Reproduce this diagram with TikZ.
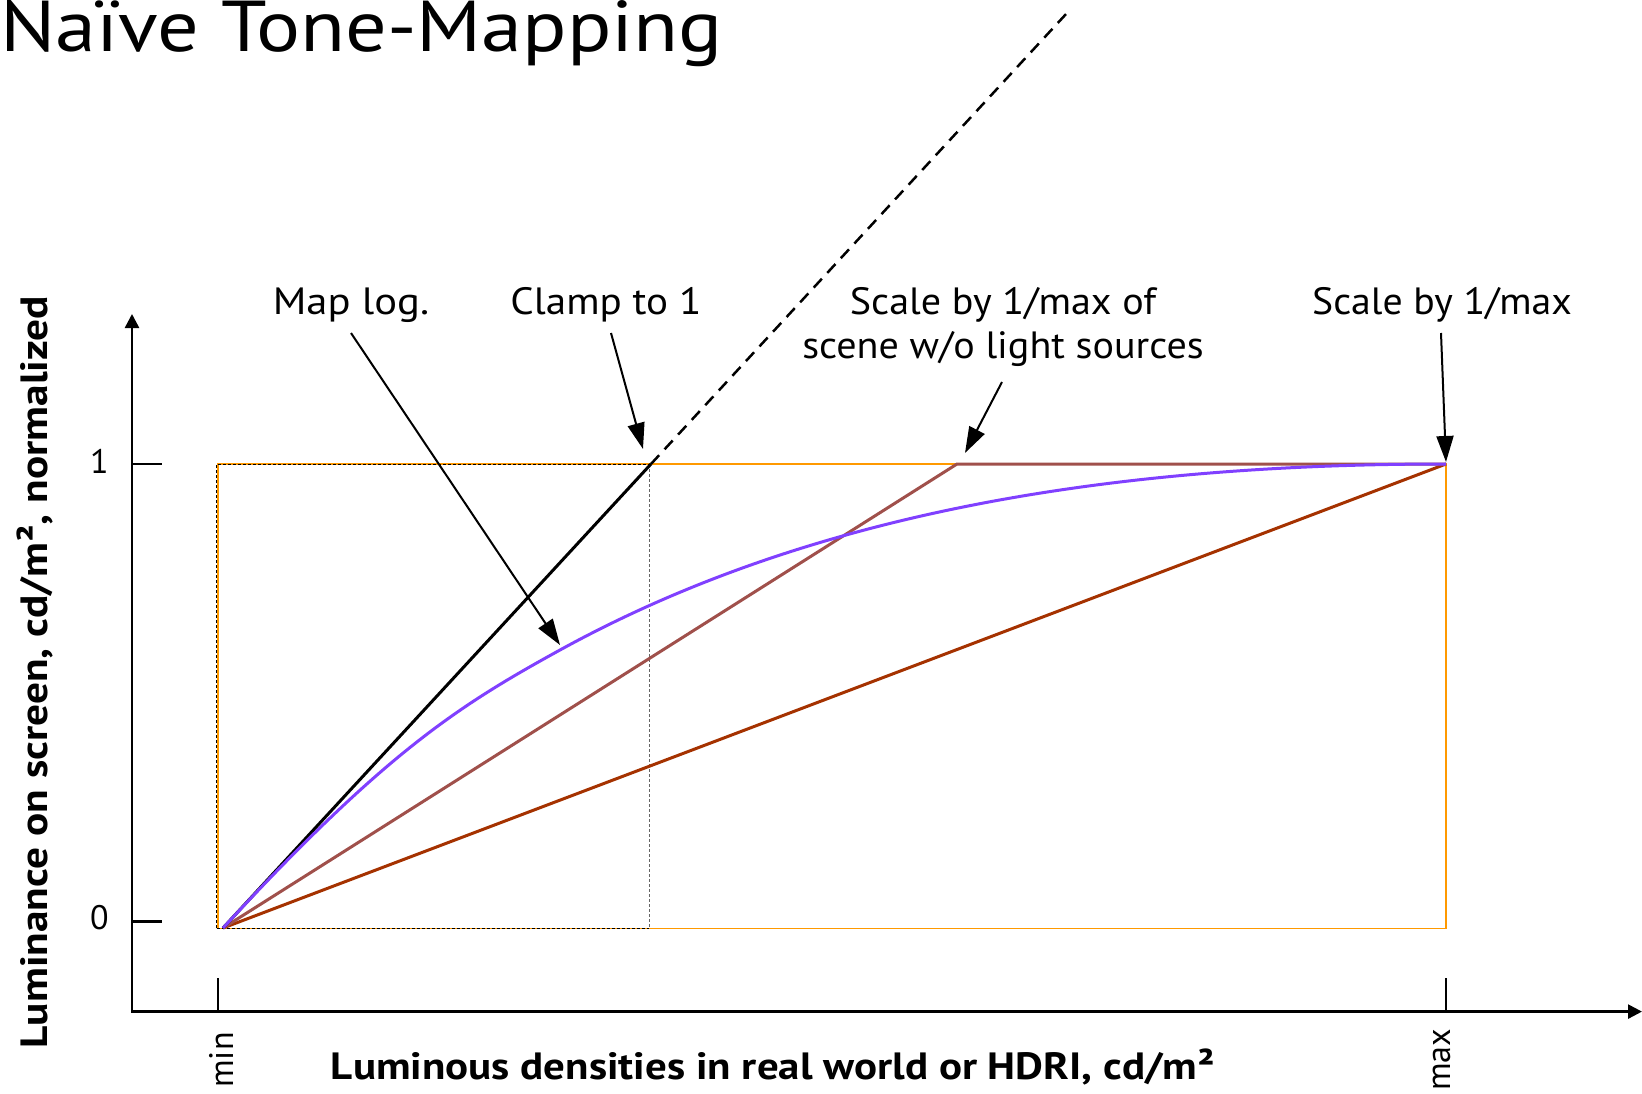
\documentclass[tikz,border=0pt]{standalone}
\usepackage{fontspec}
\setmainfont{PT Sans}
\usetikzlibrary{arrows.meta}
\definecolor{boxorange}{RGB}{255,153,0}
\definecolor{logpurple}{RGB}{128,64,255}
\definecolor{scalebrown}{RGB}{160,80,75}
\definecolor{maxbrown}{RGB}{165,50,0}
\begin{document}
\begin{tikzpicture}[x=1pt,y=-1pt,
  lbl/.style={font=\fontsize{38}{44}\selectfont, align=center, inner sep=0pt, anchor=base},
  ticklbl/.style={font=\fontsize{34}{40}\selectfont, inner sep=0pt},
  axlbl/.style={font=\fontsize{38}{44}\selectfont\bfseries, inner sep=0pt},
  curve/.style={line width=3pt, line join=round},
  annot/.style={line width=2pt, -{Triangle[length=26pt,width=17pt]}},
  axisline/.style={line width=2.5pt, {Triangle[length=14pt,width=14pt]}-{Triangle[length=14pt,width=14pt]}},
  tickline/.style={line width=2.5pt},
  thindash/.style={line width=1pt, dash pattern=on 3pt off 2pt},
]
\useasboundingbox (0,0) rectangle (1642,1094);

% title
\node[anchor=base west, inner sep=0pt, font=\fontsize{72}{84}\selectfont, xscale=1.143] (title) at (0,52) {Naïve Tone-Mapping};

% axes
\coordinate (O) at (132,1011.6);
\coordinate (ytip) at (132,314);
\coordinate (xtip) at (1642,1011.6);
\draw[axisline] (ytip) -- (O) -- (xtip);
\draw[tickline] (132,464) -- (162,464);
\draw[tickline] (132,921.6) -- (162,921.6);
\draw[tickline] (218,978) -- (218,1011.6);
\draw[tickline] (1446,978) -- (1446,1011.6);
\node[ticklbl] (one) at (99.5,461) {1};
\node[ticklbl] (zero) at (99.5,918) {0};
\node[ticklbl, rotate=90] (minl) at (221,1060) {min};
\node[ticklbl, rotate=90] (maxl) at (1442,1060) {max};
\node[axlbl, xscale=1.13] (xlab) at (773,1067) {Luminous densities in real world or HDRI, cd/m²};
\node[axlbl, rotate=90, xscale=1.139] (ylab) at (34.5,672) {Luminance on screen, cd/m², normalized};

% boxes
\draw[boxorange, line width=1.5pt] (218,464) rectangle (1446,928.3);
\draw[black, thindash] (216.5,928.3) -- (216.5,464.3) -- (649,464.3);
\draw[black, thindash] (216.5,928.3) -- (649,928.3);
\draw[black!60, thindash] (649,464.3) -- (649,928.3);

% curves
\coordinate (s) at (223,928);
\coordinate (one1) at (651,464);
\coordinate (knee) at (957,464);
\coordinate (e) at (1446,464);
\coordinate (dtop) at (1067,13);
\coordinate (lm) at (560,650);
\draw[curve, maxbrown] (s) -- (e);
\draw[curve, scalebrown] (s) -- (knee) -- (e);
\draw[curve, black] (s) -- (one1);
\draw[line width=2.5pt, black, dash pattern=on 12pt off 8pt] (one1) -- (dtop);
\draw[curve, logpurple] (s) .. controls (385.7,751.6) and (460,705) .. (lm)
  .. controls (802,517) and (1096,464) .. (e);

% annotations
\node[lbl, xscale=1.12] (maplog) at (351,314) {Map log.};
\node[lbl, xscale=1.08] (clamp) at (606,314) {Clamp to 1};
\node[lbl, xscale=1.055] (scaleof) at (1003,358) {Scale by 1/max of\\scene w/o light sources};
\node[lbl, xscale=1.047] (scalemax) at (1442,314) {Scale by 1/max};
\coordinate (a1s) at (351,333); \coordinate (a1t) at (560,645);
\coordinate (a2s) at (611,333); \coordinate (a2t) at (643,449);
\coordinate (a3s) at (1002,382); \coordinate (a3t) at (965,453);
\coordinate (a4s) at (1441,333); \coordinate (a4t) at (1446,462);
\draw[annot] (a1s) -- (a1t);
\draw[annot] (a2s) -- (a2t);
\draw[annot] (a3s) -- (a3t);
\draw[annot] (a4s) -- (a4t);
\end{tikzpicture}
\end{document}
